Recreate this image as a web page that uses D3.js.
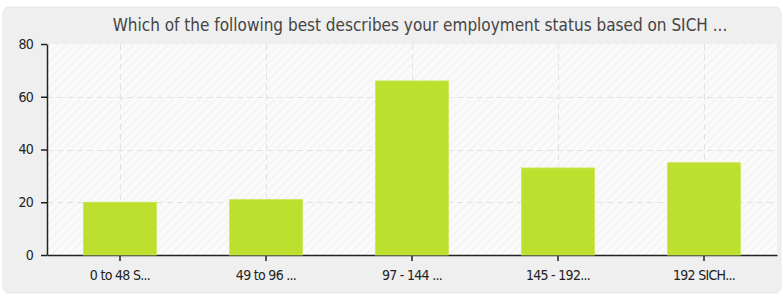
<!DOCTYPE html>
<html><head><meta charset="utf-8">
<script src="https://cdn.jsdelivr.net/npm/d3@7"></script>
<style>body{margin:0;background:#fff;}svg{display:block;font-family:"DejaVu Sans Condensed","DejaVu Sans",sans-serif;}</style>
</head><body><svg id="c" width="783" height="307"></svg>
<script>
const title = "Which of the following best describes your employment status based on SICH ...";
const categories = ["0 to 48 S...", "49 to 96 ...", "97 - 144 ...", "145 - 192...", "192  SICH..."];
const values = [20, 21, 66, 33, 35];
const yTicks = [0, 20, 40, 60, 80];

const svg = d3.select("#c");
const m = {l:47, r:777, t:44, b:255};

const defs = svg.append("defs");
const pat = defs.append("pattern").attr("id","hatch").attr("patternUnits","userSpaceOnUse")
  .attr("width",6).attr("height",6).attr("patternTransform","rotate(45)");
pat.append("rect").attr("width",6).attr("height",6).attr("fill","#fafafa");
pat.append("line").attr("x1",0).attr("y1",0).attr("x2",0).attr("y2",6).attr("stroke","#ececec").attr("stroke-width",1.4);

svg.append("rect").attr("x",3).attr("y",7).attr("width",778).attr("height",286).attr("rx",6)
  .attr("fill","#efefef").attr("stroke","#e9e9e9");

svg.append("rect").attr("x",m.l).attr("y",m.t).attr("width",m.r-m.l).attr("height",m.b-m.t).attr("fill","url(#hatch)");

const x = d3.scaleBand().domain(categories).range([m.l,m.r]).paddingInner(0.5).paddingOuter(0.25);
const y = d3.scaleLinear().domain([0,80]).range([m.b,m.t]);

// grid
const g = svg.append("g");
g.selectAll(".hg").data(yTicks.filter(d=>d>0&&d<80)).join("line")
  .attr("x1",m.l).attr("x2",m.r).attr("y1",d=>Math.round(y(d))+0.5).attr("y2",d=>Math.round(y(d))+0.5)
  .attr("stroke","#e2e2e2").attr("stroke-dasharray","6,4");
g.selectAll(".vg").data(categories).join("line")
  .attr("x1",d=>Math.round(x(d)+x.bandwidth()/2)+0.5).attr("x2",d=>Math.round(x(d)+x.bandwidth()/2)+0.5)
  .attr("y1",m.t).attr("y2",m.b).attr("stroke","#e2e2e2").attr("stroke-dasharray","6,4");

// axes
const yAxis = svg.append("g").attr("transform",`translate(${m.l},0)`)
  .call(d3.axisLeft(y).tickValues(yTicks).tickSize(6).tickSizeOuter(0));
const xAxis = svg.append("g").attr("transform",`translate(0,${m.b})`)
  .call(d3.axisBottom(x).tickSize(6).tickSizeOuter(0));
[yAxis,xAxis].forEach(a=>{
  a.select(".domain").attr("stroke","#222").attr("stroke-width",1.5);
  a.selectAll(".tick line").attr("stroke","#222").attr("stroke-width",1.5);
  a.selectAll("text").attr("fill","#222").attr("font-size",14).attr("letter-spacing","-0.7")
    .attr("font-family","'DejaVu Sans Condensed','DejaVu Sans',sans-serif");
});
yAxis.selectAll("text").attr("x",-14);
xAxis.selectAll("text").attr("y",25).attr("dy",0);

// bars
svg.append("g").selectAll("rect").data(values).join("rect")
  .attr("x",(d,i)=>x(categories[i])).attr("width",x.bandwidth())
  .attr("y",d=>y(d)).attr("height",d=>y(0)-y(d))
  .attr("fill","#bde02f").attr("stroke","#c9e65a").attr("stroke-width",0.8);

svg.append("text").attr("x",420).attr("y",31).attr("text-anchor","middle")
  .attr("font-size",17).attr("fill","#444").text(title);
</script></body></html>
